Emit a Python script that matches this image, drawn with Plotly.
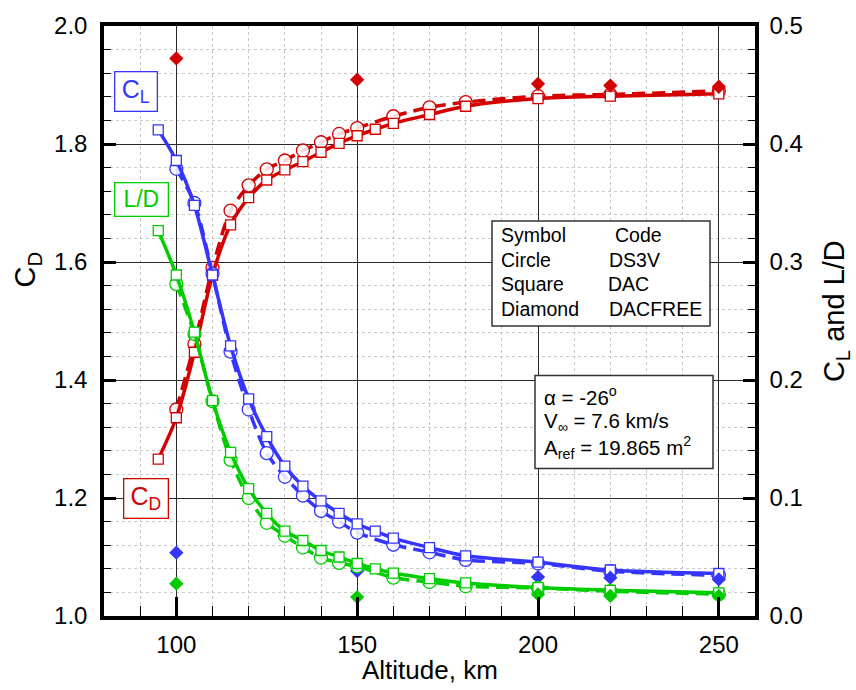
import plotly.graph_objects as go

# ---------------- data ----------------
alt_dac = [95, 100, 105, 110, 115, 120, 125, 130, 135, 140, 145, 150, 155, 160, 170, 180, 200, 220, 250]
cd_dac = [1.266, 1.336, 1.447, 1.578, 1.663, 1.709, 1.739, 1.756, 1.770, 1.786, 1.801, 1.814, 1.825,
          1.835, 1.850, 1.864, 1.877, 1.881, 1.885]
cl_dac = [0.412, 0.386, 0.348, 0.289, 0.229, 0.184, 0.152, 0.127, 0.110, 0.0975, 0.087, 0.078, 0.072,
          0.066, 0.058, 0.051, 0.0456, 0.039, 0.036]
ld_dac = [0.3266, 0.289, 0.2405, 0.1826, 0.1387, 0.108, 0.087, 0.072, 0.064, 0.0555, 0.050, 0.0445, 0.040,
          0.0364, 0.0316, 0.028, 0.0241, 0.0218, 0.0196]

alt_ds3v = [100, 105, 110, 115, 120, 125, 130, 135, 140, 145, 150, 160, 170, 180, 200, 220, 250]
cd_ds3v = [1.350, 1.461, 1.590, 1.687, 1.730, 1.757, 1.772, 1.789, 1.803, 1.817, 1.827, 1.847, 1.862,
           1.871, 1.881, 1.884, 1.890]
cl_ds3v = [0.379, 0.350, 0.290, 0.224, 0.175, 0.138, 0.118, 0.102, 0.089, 0.080, 0.0707, 0.0604, 0.054,
           0.0476, 0.0445, 0.038, 0.0344]
ld_ds3v = [0.2813, 0.239, 0.182, 0.1323, 0.100, 0.079, 0.068, 0.058, 0.0495, 0.045, 0.042, 0.0325, 0.0288,
           0.0252, 0.0238, 0.021, 0.0185]

alt_free = [100, 150, 200, 220, 250]
cd_free = [1.945, 1.909, 1.902, 1.899, 1.897]
cl_free = [0.0537, 0.0381, 0.033, 0.0325, 0.031]
ld_free = [0.0274, 0.016, 0.0183, 0.017, 0.017]

x_ticks = [100, 150, 200, 250]

RED = "#d40000"
BLUE = "#3535ff"
GREEN = "#00cc00"
FONT = "Liberation Sans, Arial, sans-serif"

# ---------------- figure ----------------
fig = go.Figure()

def add_series(alt, vals, color, kind, yaxis):
    if kind == "dac":
        fig.add_trace(go.Scatter(
            x=alt, y=vals, yaxis=yaxis, mode="lines+markers",
            line=dict(color=color, width=3.5, shape="spline", smoothing=0.8),
            marker=dict(symbol="square", size=10, color="white", line=dict(color=color, width=1.3)),
            showlegend=False, hoverinfo="skip"))
    elif kind == "ds3v":
        fig.add_trace(go.Scatter(
            x=alt, y=vals, yaxis=yaxis, mode="lines+markers",
            line=dict(color=color, width=3.5, dash="13px,7px", shape="spline", smoothing=0.8),
            marker=dict(symbol="circle", size=13, color="rgba(255,255,255,0.85)", line=dict(color=color, width=1.3)),
            showlegend=False, hoverinfo="skip"))
    else:
        fig.add_trace(go.Scatter(
            x=alt, y=vals, yaxis=yaxis, mode="markers",
            marker=dict(symbol="diamond", size=11, color=color, line=dict(width=0)),
            showlegend=False, hoverinfo="skip"))

add_series(alt_ds3v, cd_ds3v, RED, "ds3v", "y")
add_series(alt_dac, cd_dac, RED, "dac", "y")
add_series(alt_free, cd_free, RED, "free", "y")
add_series(alt_ds3v, cl_ds3v, BLUE, "ds3v", "y2")
add_series(alt_dac, cl_dac, BLUE, "dac", "y2")
add_series(alt_free, cl_free, BLUE, "free", "y2")
add_series(alt_ds3v, ld_ds3v, GREEN, "ds3v", "y2")
add_series(alt_dac, ld_dac, GREEN, "dac", "y2")
add_series(alt_free, ld_free, GREEN, "free", "y2")

W, H = 856, 690
L, R, T, B = 104, 101, 20, 74
PW, PH = W - L - R, H - T - B

def px(xp):
    return (xp - L) / PW

def py(yp):
    return (H - B - yp) / PH

tickfont = dict(family=FONT, size=24, color="black")

fig.update_layout(
    width=W, height=H,
    margin=dict(l=L, r=R, t=T, b=B, pad=0),
    paper_bgcolor="white", plot_bgcolor="white",
    font=dict(family=FONT, color="black"),
    xaxis=dict(
        range=[80, 260], tickvals=x_ticks, ticks="inside", ticklen=19, tickwidth=3, tickcolor="black",
        showline=True, linewidth=3.5, linecolor="black", mirror=True,
        showgrid=True, gridcolor="#2a2a2a", gridwidth=1.2, zeroline=False,
        tickfont=tickfont, ticklabelstandoff=4,
        minor=dict(tick0=80, dtick=10, ticks="inside", ticklen=10, tickwidth=1.3, tickcolor="black",
                   showgrid=True, gridcolor="#c8c8c8", griddash="dot", gridwidth=1),
    ),
    yaxis=dict(
        range=[1.0, 2.0], dtick=0.2, tick0=1.0, tickformat=".1f", ticks="inside", ticklen=12, tickwidth=3,
        tickcolor="black", showline=True, linewidth=3.5, linecolor="black", mirror=True,
        showgrid=True, gridcolor="#2a2a2a", gridwidth=1.2, zeroline=False,
        tickfont=tickfont, ticklabelstandoff=8,
        minor=dict(tick0=1.0, dtick=0.04, ticks="inside", ticklen=7, tickwidth=1.3, tickcolor="black",
                   showgrid=True, gridcolor="#c8c8c8", griddash="dot", gridwidth=1),
    ),
    yaxis2=dict(
        range=[0.0, 0.5], dtick=0.1, tick0=0.0, tickformat=".1f", ticks="inside", ticklen=12, tickwidth=3,
        tickcolor="black", showline=True, linewidth=3.5, linecolor="black",
        overlaying="y", side="right", showgrid=False, zeroline=False,
        tickfont=tickfont, ticklabelstandoff=6,
        minor=dict(tick0=0.0, dtick=0.02, ticks="inside", ticklen=7, tickwidth=1.3, tickcolor="black",
                   showgrid=False),
    ),
)

shapes = [
    dict(type="rect", xref="paper", yref="paper", x0=px(492), x1=px(710), y0=py(323), y1=py(217),
         line=dict(color="#333333", width=1.5), fillcolor="white", layer="above"),
    dict(type="rect", xref="paper", yref="paper", x0=px(535), x1=px(713), y0=py(467), y1=py(373),
         line=dict(color="#333333", width=1.5), fillcolor="white", layer="above"),
]
fig.update_layout(shapes=shapes)

ann = []

def text(t, xp, yp, size=19, color="black", xanchor="left", **kw):
    ann.append(dict(text=t, x=px(xp), y=py(yp), xref="paper", yref="paper", showarrow=False,
                    xanchor=xanchor, yanchor="middle", font=dict(family=FONT, size=size, color=color), **kw))

# symbol / code table
rows = [("Symbol", "Code", 613), ("Circle", "DS3V", 607), ("Square", "DAC", 606), ("Diamond", "DACFREE", 607)]
for i, (a, b, xb) in enumerate(rows):
    yy = 231 + 25 * i
    text(a, 499, yy, size=19.5)
    text(b, xb, yy, size=19.5)

# parameter box
text("\u03b1 = -26<sup>o</sup>", 542, 394, size=20.5)
text("V<sub>\u221e</sub> = 7.6 km/s", 542, 420, size=20.5)
text("A<sub>ref</sub> = 19.865 m<sup>2</sup>", 542, 446, size=20.5)

# series label boxes
def box(t, x0, y0, x1, y1, color, size=24):
    ann.append(dict(text=t, x=px((x0 + x1) / 2), y=py((y0 + y1) / 2), xref="paper", yref="paper",
                    showarrow=False, xanchor="center", yanchor="middle",
                    width=x1 - x0 - 2, height=y1 - y0 - 2, borderpad=0, borderwidth=1.3,
                    bordercolor=color, bgcolor="white",
                    font=dict(family=FONT, size=size, color=color)))

box("C<sub>L</sub>", 114, 66, 157, 106, BLUE, size=25)
box("L/D", 114, 178, 168, 212, GREEN, size=23)
box("C<sub>D</sub>", 123, 477, 168, 517, RED, size=25)

# axis titles
text("Altitude, km", 430, 671, size=26, xanchor="center")
text("C<sub>D</sub>", 27, 266, size=29, xanchor="center", textangle=-90)
text("C<sub>L</sub> and L/D", 836, 308, size=29, xanchor="center", textangle=-90)

fig.update_layout(annotations=ann)

fig.write_html("out.html")
